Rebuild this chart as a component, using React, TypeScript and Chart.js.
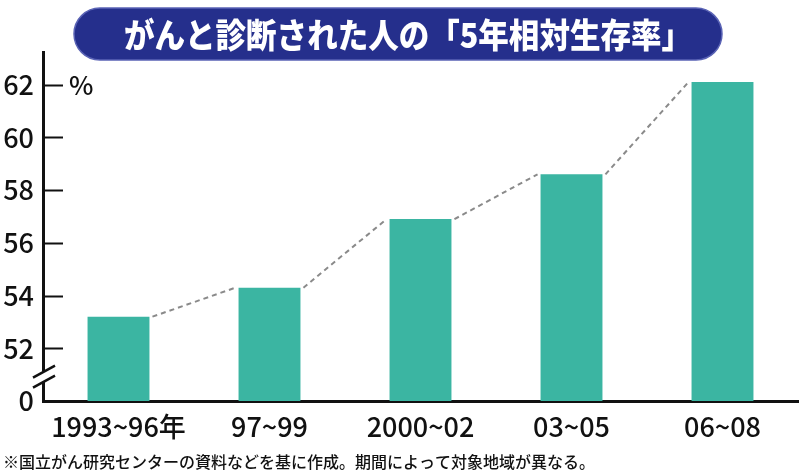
import React, { useEffect, useRef } from "react";
import { Chart, registerables } from "chart.js";

Chart.register(...registerables);

const categories = ["1993~96年", "97~99", "2000~02", "03~05", "06~08"];
const survivalRates = [53.2, 54.3, 56.9, 58.6, 62.1];
const yTickValues = [50, 52, 54, 56, 58, 60, 62];
const yTickLabels = ["0", "52", "54", "56", "58", "60", "62"];
const titleText = "がんと診断された人の「5年相対生存率」";
const unitText = "%";
const footnoteText = "※国立がん研究センターの資料などを基に作成。期間によって対象地域が異なる。";

const FONT = '"Noto Sans CJK JP", "Noto Sans", sans-serif';
const BAR_COLOR = "#3bb5a2";

const extrasPlugin = {
  id: "extras",
  beforeDraw(chart: any) {
    const ctx = chart.ctx;
    ctx.save();
    ctx.fillStyle = "#ffffff";
    ctx.fillRect(0, 0, chart.width, chart.height);
    // title pill
    const x0 = 74, x1 = 722, y0 = 8, y1 = 60, r = (y1 - y0) / 2;
    ctx.beginPath();
    ctx.moveTo(x0 + r, y0);
    ctx.lineTo(x1 - r, y0);
    ctx.arc(x1 - r, y0 + r, r, -Math.PI / 2, Math.PI / 2);
    ctx.lineTo(x0 + r, y1);
    ctx.arc(x0 + r, y0 + r, r, Math.PI / 2, Math.PI * 1.5);
    ctx.closePath();
    ctx.fillStyle = "#252f8c";
    ctx.fill();
    ctx.lineWidth = 1.5;
    ctx.strokeStyle = "#5a63b5";
    ctx.stroke();
    ctx.fillStyle = "#ffffff";
    ctx.font = `900 32px ${FONT}`;
    ctx.textAlign = "center";
    ctx.textBaseline = "middle";
    const tw = ctx.measureText(titleText).width;
    const target = 568;
    ctx.translate(408, 35);
    ctx.scale(Math.min(1.1, target / tw), 1.05);
    ctx.fillText(titleText, 0, 0);
    ctx.setTransform(1, 0, 0, 1, 0, 0);
    // footnote
    ctx.fillStyle = "#111111";
    ctx.font = `500 16px ${FONT}`;
    ctx.textAlign = "left";
    ctx.textBaseline = "middle";
    ctx.fillText(footnoteText, 3, 462);
    ctx.restore();
  },
  afterDatasetsDraw(chart: any) {
    const ctx = chart.ctx;
    const meta = chart.getDatasetMeta(0);
    const yScale = chart.scales.y;
    const area = chart.chartArea;
    ctx.save();
    // dashed connectors
    ctx.strokeStyle = "#8a8a8a";
    ctx.lineWidth = 2;
    ctx.setLineDash([5, 4]);
    for (let i = 0; i < meta.data.length - 1; i++) {
      const a = meta.data[i];
      const b = meta.data[i + 1];
      ctx.beginPath();
      ctx.moveTo(a.x + a.width / 2 + 3, a.y);
      ctx.lineTo(b.x - b.width / 2 - 3, b.y);
      ctx.stroke();
    }
    ctx.setLineDash([]);
    // inner tick marks
    ctx.strokeStyle = "#111111";
    ctx.lineWidth = 2;
    for (const v of yTickValues) {
      if (v === yTickValues[0]) continue;
      const y = Math.round(yScale.getPixelForValue(v)) + 0.5;
      ctx.beginPath();
      ctx.moveTo(area.left, y);
      ctx.lineTo(area.left + 20, y);
      ctx.stroke();
    }
    // unit label
    ctx.fillStyle = "#111111";
    ctx.font = `500 26px ${FONT}`;
    ctx.textAlign = "left";
    ctx.textBaseline = "middle";
    ctx.fillText(unitText, area.left + 26, yScale.getPixelForValue(yTickValues[yTickValues.length - 1]));
    // axis break
    const yb = (yScale.getPixelForValue(50) + yScale.getPixelForValue(52)) / 2 + 2;
    ctx.fillStyle = "#ffffff";
    ctx.fillRect(area.left - 3, yb - 5, 6, 10);
    ctx.strokeStyle = "#111111";
    ctx.lineWidth = 2.5;
    for (const off of [-5, 5]) {
      ctx.beginPath();
      ctx.moveTo(area.left - 10, yb + off + 6);
      ctx.lineTo(area.left + 12, yb + off - 6);
      ctx.stroke();
    }
    ctx.restore();
  },
};

export default function App() {
  const ref = useRef<HTMLCanvasElement | null>(null);
  useEffect(() => {
    if (!ref.current) return;
    const chart = new Chart(ref.current, {
      type: "bar",
      data: {
        labels: categories,
        datasets: [
          {
            data: survivalRates,
            backgroundColor: BAR_COLOR,
            borderWidth: 0,
            barPercentage: 0.41,
            categoryPercentage: 1,
          },
        ],
      },
      options: {
        animation: false,
        responsive: false,
        devicePixelRatio: 1,
        layout: { padding: { top: 52, right: 2, left: 0, bottom: 0 } },
        plugins: { legend: { display: false }, tooltip: { enabled: false }, title: { display: false } },
        scales: {
          x: {
            grid: { display: false, drawTicks: false },
            border: { display: true, color: "#111111", width: 3 },
            ticks: {
              color: "#111111",
              font: { family: FONT, size: 27, weight: "500" },
              padding: 10,
              maxRotation: 0,
              autoSkip: false,
            },
            afterFit(scale: any) {
              scale.height = 73;
            },
          },
          y: {
            min: 50,
            max: 63.24,
            grid: { display: false, drawTicks: false },
            border: { display: true, color: "#111111", width: 3 },
            afterBuildTicks(scale: any) {
              scale.ticks = yTickValues.map((v) => ({ value: v }));
            },
            ticks: {
              color: "#111111",
              font: { family: FONT, size: 27, weight: "500" },
              padding: 9,
              callback: (v: any) => {
                const i = yTickValues.indexOf(Number(v));
                return i >= 0 ? yTickLabels[i] : "";
              },
            },
            afterFit(scale: any) {
              scale.width = 43;
            },
          },
        },
      },
      plugins: [extrasPlugin],
    });
    return () => chart.destroy();
  }, []);
  return (
    <div style={{ position: "fixed", left: 0, top: 0, width: 800, height: 474, background: "#fff" }}>
      <canvas ref={ref} width={800} height={474} style={{ width: 800, height: 474 }} />
    </div>
  );
}
